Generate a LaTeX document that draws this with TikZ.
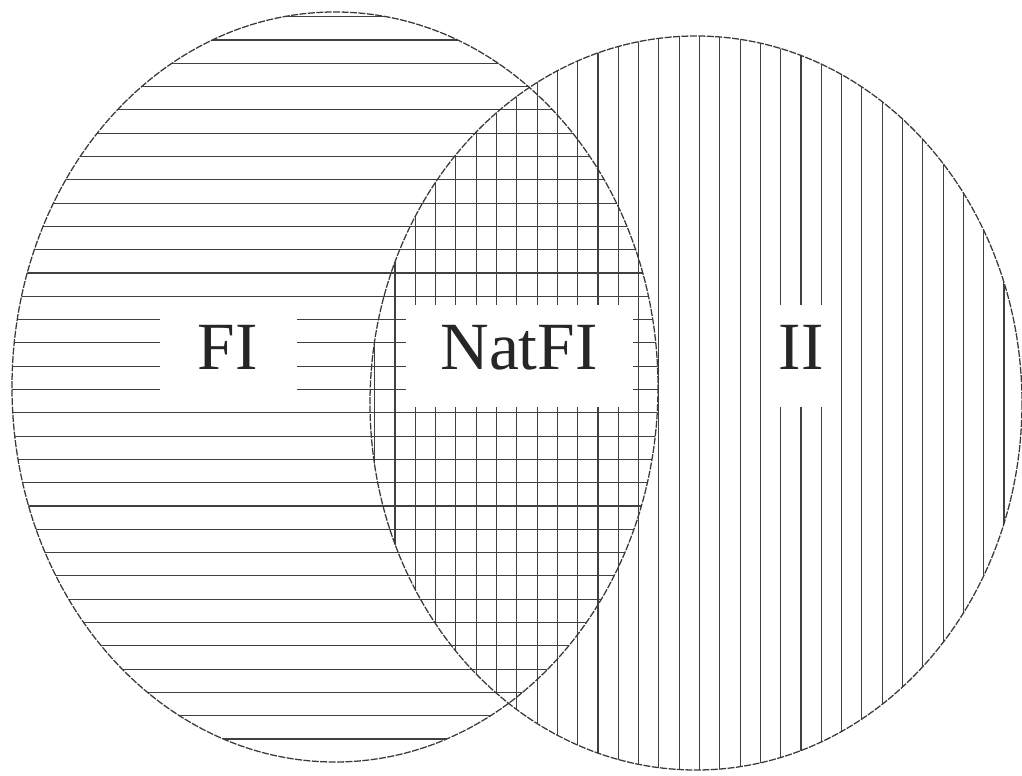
\documentclass[tikz,border=0pt]{standalone}
\usepackage{fontspec}
\setmainfont{Liberation Serif}
\tikzstyle{outline} = [gray!45!black, line width=0.9pt, dash pattern=on 5pt off 1pt]
\tikzstyle{hatch} = [gray!50!black, line width=0.8pt]
\tikzstyle{setlabel} = [fill=white, inner xsep=0pt, inner ysep=14pt, text height=32pt, text depth=13pt, font=\fontsize{48}{50}\selectfont, text=black!85]

\begin{document}
\begin{tikzpicture}[x=0.025cm, y=-0.025cm]
        \useasboundingbox (0,0) rectangle (1022,776);
        % horizontal hatching of the left set
        \begin{scope}
        \clip (335,387) ellipse [x radius=323, y radius=375];
        \foreach \k in {-1,...,31}
                \draw [hatch] (0,40+23.3*\k) -- (1022,40+23.3*\k);
        \end{scope}
        % vertical hatching of the right set
        \begin{scope}
        \clip (696,403) ellipse [x radius=326, y radius=367];
        \foreach \k in {-2,...,31}
                \draw [hatch] (395+20.3*\k,0) -- (395+20.3*\k,776);
        \end{scope}
        \draw [outline] (335,387) ellipse [x radius=323, y radius=375];
        \draw [outline] (696,403) ellipse [x radius=326, y radius=367];
        \node [setlabel, minimum width=137*0.025cm] (fi) at (228,356) {FI};
        \node [setlabel, minimum width=227*0.025cm] (natfi) at (519,356) {NatFI};
        \node [setlabel, minimum width=78*0.025cm] (ii) at (801,356) {II};
\end{tikzpicture}
\end{document}
